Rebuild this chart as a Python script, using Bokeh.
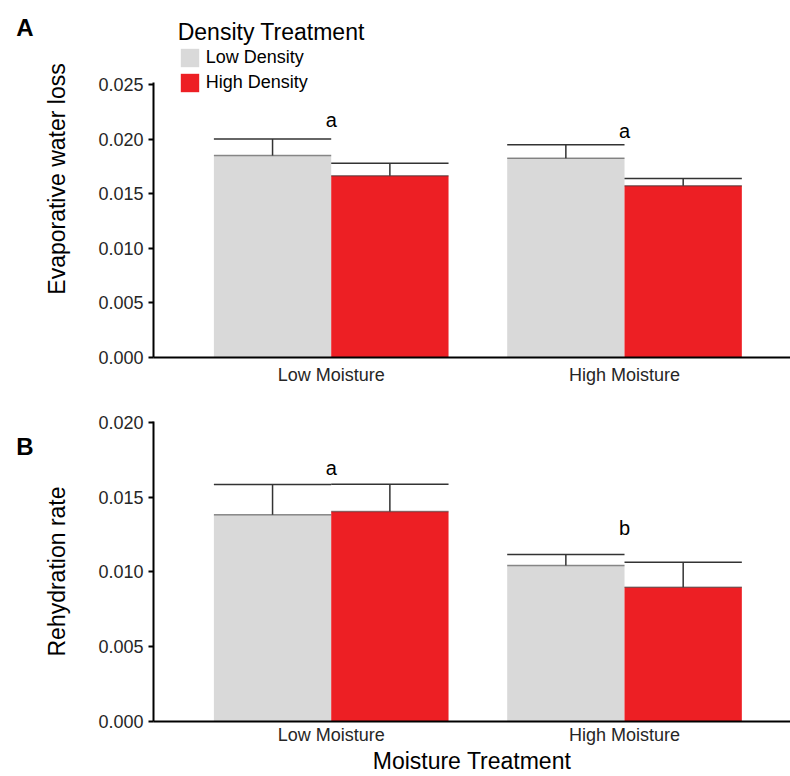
from bokeh.plotting import figure
from bokeh.models import (Range1d, FixedTicker, NumeralTickFormatter, Legend,
                          LegendItem, LinearAxis, ColumnDataSource)
from bokeh.layouts import column
from bokeh.embed import file_html
from bokeh.resources import INLINE
from bokeh.core.properties import value

# ---------------- data ----------------
moisture = ["Low Moisture", "High Moisture"]
density = ["Low Density", "High Density"]

evap_low = [0.01853, 0.01829]
evap_low_se = [0.00151, 0.00122]
evap_high = [0.01667, 0.01575]
evap_high_se = [0.00116, 0.00067]
evap_letters = ["a", "a"]
evap_letter_y = [0.02183, 0.0208]
evap_ticks = [0.0, 0.005, 0.010, 0.015, 0.020, 0.025]

rehy_low = [0.01381, 0.01042]
rehy_low_se = [0.00203, 0.00074]
rehy_high = [0.01403, 0.00898]
rehy_high_se = [0.00183, 0.00167]
rehy_letters = ["a", "b"]
rehy_letter_y = [0.01691, 0.0129]
rehy_ticks = [0.0, 0.005, 0.010, 0.015, 0.020]

# ---------------- style ----------------
FONT = "Liberation Sans"
GREY = "#d9d9d9"
RED = "#ed1f24"
ERR = "#333333"
TICK_COLOR = "#262626"
BW = 0.4
xs = [i + 1 for i in range(len(moisture))]
X_RANGE = (0.3941, 2.5659)


def make_panel(height, top, bottom, y_end, y_bound, ticks, ylabel, lows, low_se,
               highs, high_se, letters, letter_y, tag, tag_y, legend=False,
               xlabel=None, x_standoff=7):
    p = figure(width=790, height=height, output_backend="svg", toolbar_location=None,
               title=None, x_range=Range1d(*X_RANGE), y_range=Range1d(0, y_end),
               min_border_left=153, min_border_right=0,
               min_border_top=top, min_border_bottom=bottom)
    p.outline_line_color = None
    p.xgrid.visible = False
    p.ygrid.visible = False
    p.background_fill_color = "white"
    p.border_fill_color = "white"

    x_low = [x - BW / 2 for x in xs]
    x_high = [x + BW / 2 for x in xs]
    r_low = p.vbar(x=x_low, top=lows, bottom=0, width=BW, fill_color=GREY, line_color=None)
    r_high = p.vbar(x=x_high, top=highs, bottom=0, width=BW, fill_color=RED, line_color=None)

    for xc, m, s in ((x_low, lows, low_se), (x_high, highs, high_se)):
        up = [a + b for a, b in zip(m, s)]
        src = ColumnDataSource(dict(
            xc=xc, m=m, up=up,
            l=[x - BW / 2 for x in xc], r=[x + BW / 2 for x in xc]))
        p.segment(x0="l", y0="m", x1="r", y1="m", source=src, line_color=ERR,
                  line_alpha=0.55, line_width=1.5)
        p.segment(x0="xc", y0="m", x1="xc", y1="up", source=src, line_color=ERR, line_width=1.5)
        p.segment(x0="l", y0="up", x1="r", y1="up", source=src, line_color=ERR, line_width=1.5)

    p.text(x=xs, y=letter_y, text=letters, text_font=value(FONT), text_font_size="20px",
           text_align="center", text_baseline="alphabetic", text_color="black")

    # axes
    for ax in (p.xaxis[0], p.yaxis[0]):
        ax.axis_line_color = "black"
        ax.axis_line_width = 2
        ax.minor_tick_line_color = None
        ax.major_label_text_font = FONT
        ax.major_label_text_font_size = "18px"
        ax.major_label_text_color = TICK_COLOR
    p.xaxis.ticker = FixedTicker(ticks=xs)
    p.xaxis.major_label_overrides = {x: m for x, m in zip(xs, moisture)}
    p.xaxis.major_tick_line_color = None
    p.xaxis.major_tick_out = 0
    p.xaxis.major_tick_in = 0
    p.xaxis.major_label_standoff = x_standoff
    if xlabel:
        p.xaxis.axis_label = xlabel
        p.xaxis.axis_label_text_font = FONT
        p.xaxis.axis_label_text_font_size = "23px"
        p.xaxis.axis_label_text_font_style = "normal"
        p.xaxis.axis_label_text_color = "black"
        p.xaxis.axis_label_standoff = 0

    p.yaxis.bounds = (0, y_bound)
    p.yaxis.ticker = FixedTicker(ticks=ticks)
    p.yaxis.formatter = NumeralTickFormatter(format="0.000")
    p.yaxis.major_tick_out = 5
    p.yaxis.major_tick_in = 0
    p.yaxis.major_tick_line_width = 2
    p.yaxis.major_tick_line_color = "black"
    p.yaxis.major_label_standoff = 5
    p.yaxis.axis_label = ylabel
    p.yaxis.axis_label_text_font = FONT
    p.yaxis.axis_label_text_font_size = "23px"
    p.yaxis.axis_label_text_font_style = "normal"
    p.yaxis.axis_label_text_color = "black"
    p.yaxis.axis_label_standoff = 25

    # panel tag ("A" / "B") as a bare outer axis label
    tag_ax = LinearAxis(ticker=FixedTicker(ticks=[tag_y]),
                        major_label_overrides={tag_y: tag},
                        axis_line_color=None, major_tick_line_color=None,
                        minor_tick_line_color=None, major_tick_out=0, major_tick_in=0,
                        major_label_standoff=8, major_label_text_font=FONT,
                        major_label_text_font_size="24px",
                        major_label_text_font_style="bold",
                        major_label_text_color="black")
    p.add_layout(tag_ax, "left")

    if legend:
        lg = Legend(items=[LegendItem(label=density[0], renderers=[r_low]),
                           LegendItem(label=density[1], renderers=[r_high])],
                    location=(24.7, 263), title="Density Treatment",
                    glyph_width=23, glyph_height=23, label_height=23, spacing=2,
                    padding=0, margin=0, label_standoff=5,
                    label_text_font=FONT, label_text_font_size="18px",
                    label_text_color="black",
                    title_text_font=FONT, title_text_font_size="23px",
                    title_text_font_style="normal", title_text_color="black",
                    title_standoff=0, border_line_color=None,
                    background_fill_alpha=0)
        p.add_layout(lg, "center")
    return p


pA = make_panel(390, 0, 33, 0.032752, 0.0252, evap_ticks, "Evaporative water loss",
                evap_low, evap_low_se, evap_high, evap_high_se,
                evap_letters, evap_letter_y, "A", 0.030275, legend=True)
pB = make_panel(386, 31, 55, 0.02005, 0.02005, rehy_ticks, "Rehydration rate",
                rehy_low, rehy_low_se, rehy_high, rehy_high_se,
                rehy_letters, rehy_letter_y, "B", 0.018412,
                xlabel="Moisture Treatment", x_standoff=3)

layout = column(pA, pB, spacing=0)
open("out.html", "w").write(file_html(layout, INLINE))
